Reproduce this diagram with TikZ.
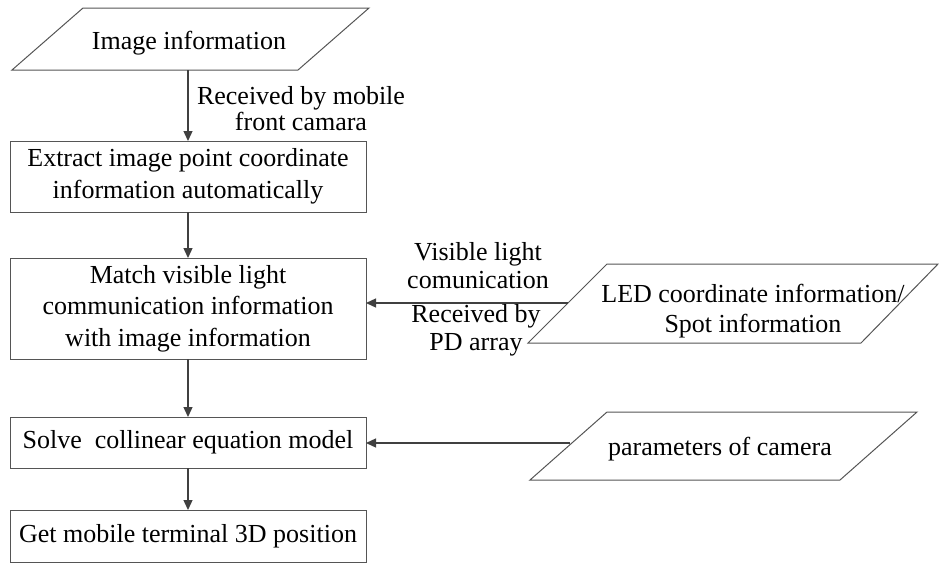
\documentclass[tikz,border=0pt]{standalone}
\usepackage{fontspec}
\setmainfont{Liberation Serif}
\usetikzlibrary{arrows.meta}
\definecolor{boxc}{HTML}{555555}
\definecolor{arrc}{HTML}{404040}
\begin{document}
\begin{tikzpicture}[x=1pt,y=-1pt,
  box/.style={draw=boxc, line width=1pt, minimum width=356pt, align=center,
    inner sep=0pt, outer sep=0pt, font=\fontsize{26}{31.5}\selectfont},
  ptext/.style={align=center, inner sep=0pt, font=\fontsize{26}{30}\selectfont},
  lab/.style={align=center, inner sep=0pt, font=\fontsize{26}{27.5}\selectfont},
  pline/.style={draw=boxc, line width=1pt, line join=miter},
  arr/.style={draw=arrc, line width=1.3pt, -{Triangle[length=10pt,width=9pt]}}
]
\useasboundingbox (0,0) rectangle (939,563);

% process boxes
\node[box, minimum height=71pt]  (b1) at (188,176.5) {Extract image point coordinate\\information automatically};
\node[box, minimum height=101pt] (b2) at (188,308.5) {Match visible light\\communication information\\with image information};
\node[box, minimum height=51pt]  (b3) at (188,442.5) {Solve\ \ collinear equation model};
\node[box, minimum height=52pt]  (b4) at (188,536)   {Get mobile terminal 3D position};

% input parallelograms (outline corners)
\coordinate (i1) at (83,8);   \coordinate (i2) at (369,8);
\coordinate (i3) at (298,70); \coordinate (i4) at (12,70);
\draw[pline] (i1) -- (i2) -- (i3) -- (i4) -- cycle;
\node[ptext, anchor=base] (img) at (189,49) {Image information};
\coordinate (imgout) at (188,70);

\coordinate (l1) at (607,264); \coordinate (l2) at (938,264);
\coordinate (l3) at (861,343); \coordinate (l4) at (528,343);
\draw[pline] (l1) -- (l2) -- (l3) -- (l4) -- cycle;
\node[ptext, anchor=base] (led) at (753,332) {LED coordinate information/\\Spot information};
\coordinate (ledout) at (568,303);

\coordinate (c1) at (607,412); \coordinate (c2) at (917,412);
\coordinate (c3) at (840,480); \coordinate (c4) at (530,480);
\draw[pline] (c1) -- (c2) -- (c3) -- (c4) -- cycle;
\node[ptext, anchor=base] (cam) at (720,455) {parameters of camera};
\coordinate (camout) at (570,443);

% connectors
\draw[arr] (imgout) -- (b1.north);
\draw[arr] (b1) -- (b2);
\draw[arr] (b2) -- (b3);
\draw[arr] (b3) -- (b4);
\draw[arr] (ledout) -- (ledout -| b2.east);
\draw[arr] (camout) -- (camout -| b3.east);

% labels
\node[lab, anchor=base, font=\fontsize{26}{25.5}\selectfont] (lab1) at (301,130) {Received by mobile\\front camara};
\node[lab, anchor=base] (lab2) at (478,288) {Visible light\\comunication};
\node[lab, anchor=base] (lab3) at (476,350) {Received by\\PD array};
\end{tikzpicture}
\end{document}
